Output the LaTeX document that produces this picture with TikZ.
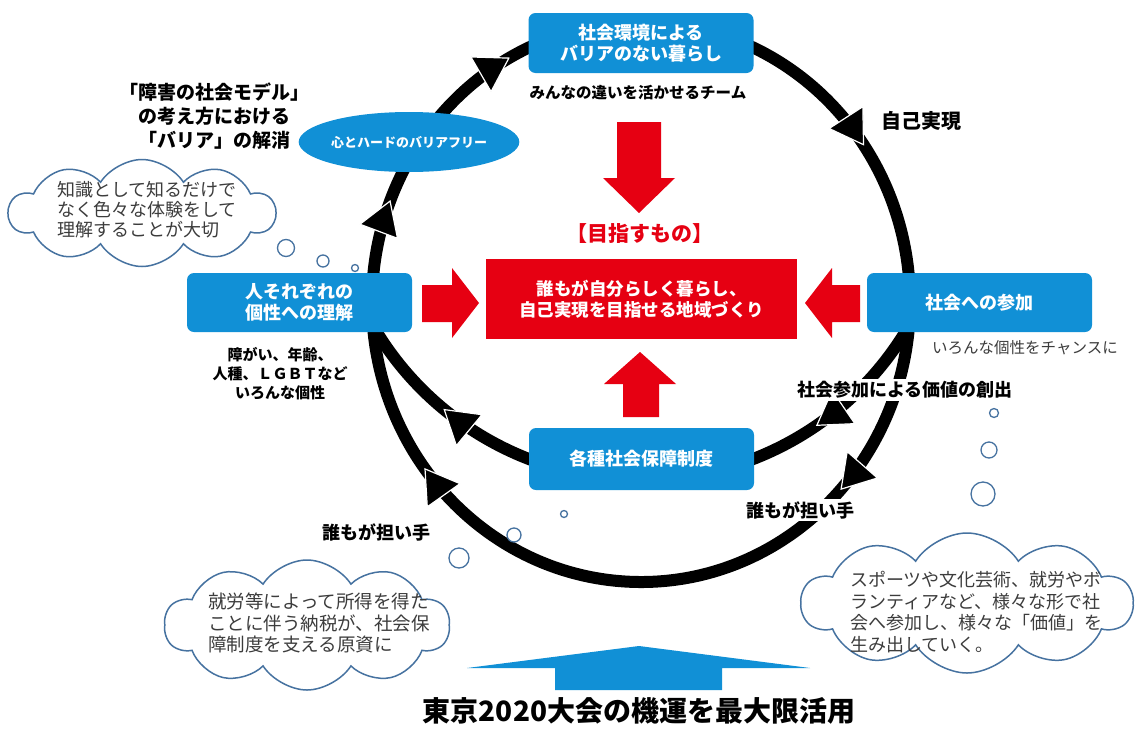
\documentclass[tikz,border=0pt]{standalone}
\usepackage{fontspec}
\setmainfont{Noto Sans CJK JP}
\usetikzlibrary{arrows.meta,decorations.markings,shapes.geometric,shapes.symbols}
\definecolor{boxblue}{RGB}{17,144,214}
\definecolor{redc}{RGB}{230,0,18}
\definecolor{cloudc}{RGB}{70,114,160}
\definecolor{graytext}{RGB}{60,60,60}
\tikzset{
  tipA/.tip={Triangle[length=34pt,width=42pt,line width=1.2pt,color=white,fill=black]},
  flow/.style={line width=12pt,draw=black},
  arrowat/.style={postaction={decorate},decoration={markings,mark=at position #1 with {\arrow{tipA}}}},
  arrowtwo/.style 2 args={postaction={decorate},decoration={markings,mark=at position #1 with {\arrow{tipA}},mark=at position #2 with {\arrow{tipA}}}},
  bluebox/.style={fill=boxblue,rounded corners=7pt,text=white,align=center,inner sep=0pt,
    minimum width=225pt,font=\bfseries\fontsize{18}{21}\selectfont},
  lab/.style={inner sep=0pt,align=center,font=\bfseries\fontsize{18}{21}\selectfont},
  cloudbox/.style={cloud,cloud puffs=10,cloud puff arc=115,cloud ignores aspect,draw=cloudc,
    line width=1.5pt,fill=white,inner sep=0pt},
  cloudtxt/.style={inner sep=0pt,align=left,text=graytext,anchor=west},
  bubble/.style={draw=cloudc,line width=1.3pt,fill=white},
}
\begin{document}
\begin{tikzpicture}[x=1pt,y=-1pt]
\useasboundingbox (0,0) rectangle (1137,731);
\fill[white] (0,0) rectangle (1137,731);

% centres of the two loops
\coordinate (O) at (641,302);
\coordinate (Ic) at (641,170);
\path (O) ++(184:269 and 280) coordinate (p1);
\path (O) ++(213:269 and 280) coordinate (p2);
\path (O) ++(293:269 and 280) coordinate (p3);
\path (O) ++(4:269 and 280) coordinate (p4);
\path (Ic) ++(29:310 and 310) coordinate (q1);
\path (Ic) ++(110:310 and 310) coordinate (q2);

% black loops
\draw[flow,arrowat=0.6] (p1) arc[start angle=184,end angle=213,x radius=269,y radius=280];
\draw[flow,arrowat=0.82] (p2) arc[start angle=213,end angle=247,x radius=269,y radius=280];
\draw[flow,arrowat=0.52] (p3) arc[start angle=293,end angle=356,x radius=269,y radius=280];
\draw[flow,arrowtwo={0.225}{0.809}] (p4) arc[start angle=4,end angle=176,x radius=269,y radius=280];
\draw[flow,arrowat=0.65] (q1) arc[start angle=29,end angle=70,radius=310];
\draw[flow,arrowat=0.49] (q2) arc[start angle=110,end angle=150,radius=310];

% boxes
\node[bluebox,minimum height=60pt] (top) at (641,43) {社会環境による\\バリアのない暮らし};
\node[bluebox,minimum height=59pt] (left) at (299.5,302.5) {人それぞれの\\個性への理解};
\node[bluebox,minimum height=59pt] (right) at (979.5,302.5) {社会への参加};
\node[bluebox,minimum height=62pt] (social) at (641.5,459) {各種社会保障制度};
\node[fill=redc,minimum width=311pt,minimum height=80pt,inner sep=0pt,text=white,align=center,
  font=\bfseries\fontsize{17.5}{21}\selectfont] (goal) at (641.5,299) {誰もが自分らしく暮らし、\\自己実現を目指せる地域づくり};
\node[ellipse,fill=boxblue,minimum width=196pt,minimum height=60pt,inner sep=0pt,text=white,
  font=\bfseries\fontsize{13}{15}\selectfont] (bf) at (409,142) {心とハードのバリアフリー};

% red arrows
\fill[redc] (617,122) -- (661,122) -- (661,178) -- (675,178) -- (639,213) -- (603,178) -- (617,178) -- cycle;
\fill[redc] (623,417) -- (659,417) -- (659,384) -- (676,384) -- (640,352) -- (604,384) -- (623,384) -- cycle;
\fill[redc] (422,285) -- (452,285) -- (452,268) -- (479,303) -- (452,338) -- (452,322) -- (422,322) -- cycle;
\fill[redc] (860,285) -- (832,285) -- (832,268) -- (805,303) -- (832,338) -- (832,322) -- (860,322) -- cycle;

% blue arrow at bottom
\fill[boxblue] (555,690) -- (722,690) -- (722,668) -- (810,668) -- (639,646) -- (467,668) -- (555,668) -- cycle;

% labels
\node[lab,text=redc,font=\bfseries\fontsize{21}{24}\selectfont] (aim) at (640,234) {【目指すもの】};
\node[lab,font=\bfseries\fontsize{15.5}{18}\selectfont] (team) at (638,93) {みんなの違いを活かせるチーム};
\node[lab,font=\bfseries\fontsize{19}{24}\selectfont] (model) at (214,116) {「障害の社会モデル」\\の考え方における\\「バリア」の解消};
\node[lab,font=\bfseries\fontsize{20}{22}\selectfont] (self) at (921,121) {自己実現};
\node[lab,font=\bfseries\fontsize{15}{19}\selectfont] (indiv) at (280,374) {障がい、年齢、\\人種、ＬＧＢＴなど\\いろんな個性};
\node[lab,text=graytext,font=\fontsize{15.5}{18}\selectfont] (chance) at (1025,348) {いろんな個性をチャンスに};
\node[lab,fill=white,inner sep=2pt] (value) at (905,390) {社会参加による価値の創出};
\node[lab,fill=white,inner sep=2pt] (bearR) at (800,510) {誰もが担い手};
\node[lab] (bearL) at (376,532) {誰もが担い手};
\node[lab,font=\bfseries\fontsize{28}{30}\selectfont] (tokyo) at (639,711) {東京2020大会の機運を最大限活用};

% clouds
\node[cloudbox,minimum width=266pt,minimum height=107pt] (c1) at (142,213) {};
\node[cloudtxt,font=\fontsize{18}{20}\selectfont] (t1) at (57,210) {知識として知るだけで\\なく色々な体験をして\\理解することが大切};
\node[cloudbox,minimum width=285pt,minimum height=130pt] (c2) at (307,625) {};
\node[cloudtxt,font=\fontsize{18.5}{21.5}\selectfont] (t2) at (208,623) {就労等によって所得を得た\\ことに伴う納税が、社会保\\障制度を支える原資に};
\node[cloudbox,minimum width=331pt,minimum height=140pt] (c3) at (967,603) {};
\node[cloudtxt,font=\fontsize{18}{21.5}\selectfont] (t3) at (850,612) {スポーツや文化芸術、就労やボ\\ランティアなど、様々な形で社\\会へ参加し、様々な「価値」を\\生み出していく。};

% thought bubbles
\draw[bubble] (286,248) circle[radius=8.5];
\draw[bubble] (323,261) circle[radius=6];
\draw[bubble] (355,268) circle[radius=3.5];
\draw[bubble] (564,514) circle[radius=3.5];
\draw[bubble] (514,535) circle[radius=7];
\draw[bubble] (459,558) circle[radius=10];
\draw[bubble] (994,413) circle[radius=4.5];
\draw[bubble] (989,450) circle[radius=8];
\draw[bubble] (983,494) circle[radius=12];
\end{tikzpicture}
\end{document}
